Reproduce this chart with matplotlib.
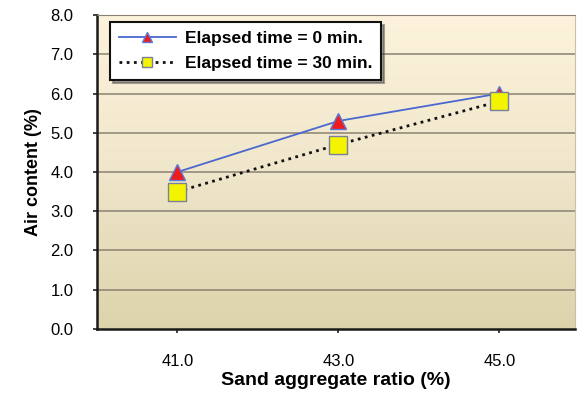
import numpy as np
import matplotlib.pyplot as plt
from matplotlib.colors import LinearSegmentedColormap

sand_ratio = ['41.0', '43.0', '45.0']
air_0min = [4.0, 5.3, 6.0]
air_30min = [3.5, 4.7, 5.8]
y_ticks = [0, 1, 2, 3, 4, 5, 6, 7, 8]

plt.rcParams['font.family'] = ['Liberation Sans', 'DejaVu Sans']

fig = plt.figure(figsize=(5.82, 3.97), dpi=100)
ax = fig.add_axes([0.1667, 0.1713, 0.8213, 0.7909])

x = np.arange(len(sand_ratio))

# gradient background, tan at bottom to cream at top
grad = np.linspace(0, 1, 256).reshape(-1, 1)
cmap = LinearSegmentedColormap.from_list('bg', ['#ddd3ab', '#efe6cb', '#fdf3dc'])
ax.imshow(grad, cmap=cmap, aspect='auto', extent=[-0.5, 2.47, 0, 8],
          zorder=0, origin='lower')
ax.set_xlim(-0.5, 2.47)
ax.set_ylim(0, 8)

for yv in y_ticks[1:]:
    ax.axhline(yv, color='#8a8272', lw=1.1, zorder=1)

ax.plot(x, air_0min, color='#4a68d0', lw=1.3, marker='^', ms=12,
        markerfacecolor='#ee1c1c', markeredgecolor='#5a78d8', markeredgewidth=1,
        label='Elapsed time = 0 min.', zorder=3)
ax.plot(x, air_30min, color='#111111', lw=2, linestyle=(0, (1, 1.6)), marker='s', ms=13,
        markerfacecolor='#f4f400', markeredgecolor='#7a7f9a', markeredgewidth=1,
        label='Elapsed time = 30 min.', zorder=3)

ax.set_xticks(x)
ax.set_xticklabels(sand_ratio)
ax.set_yticks(y_ticks)
ax.set_yticklabels([f'{v:.1f}' for v in y_ticks])
ax.tick_params(axis='both', labelsize=12, color='#222222', length=3, width=1.2)
ax.tick_params(axis='x', pad=15)
ax.tick_params(axis='y', pad=14)

for s in ['left', 'bottom']:
    ax.spines[s].set_linewidth(1.8)
    ax.spines[s].set_color('#1a1a1a')
ax.spines['top'].set_color('#8a8272')
ax.spines['right'].set_color('#c8c0a8')

ax.set_xlabel('Sand aggregate ratio (%)', fontsize=14, fontweight='bold', labelpad=2)
ax.set_ylabel('Air content (%)', fontsize=13, fontweight='bold', labelpad=6)

leg = ax.legend(loc='upper left', bbox_to_anchor=(0.027, 0.978),
                prop={'weight': 'bold', 'size': 12.5}, frameon=True, fancybox=False,
                shadow=True, borderpad=0.5, labelspacing=0.6, handlelength=3.3,
                handletextpad=0.5, borderaxespad=0)
leg.get_frame().set_edgecolor('#111111')
leg.get_frame().set_linewidth(1.5)
leg.get_frame().set_facecolor('white')
for h in leg.legend_handles:
    h.set_markersize(7)

fig.savefig('out.png', dpi=100)
